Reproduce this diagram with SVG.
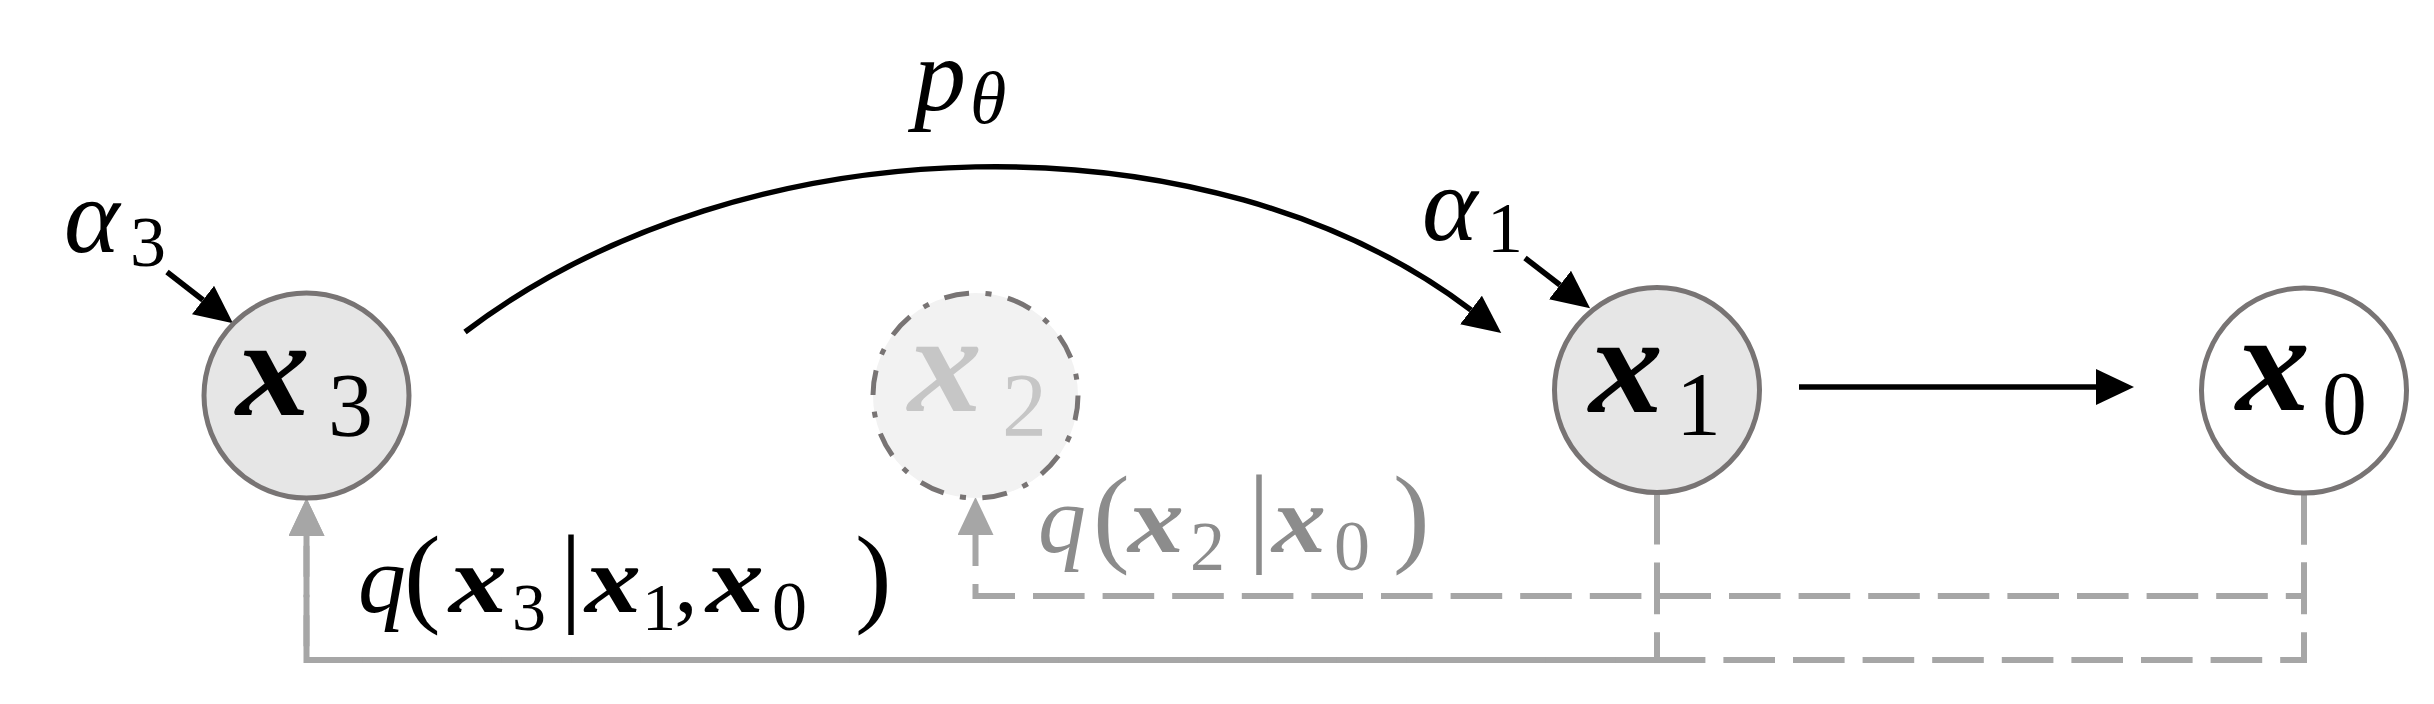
<svg xmlns="http://www.w3.org/2000/svg" width="2434" height="704" viewBox="0 0 2434 704">
<defs>
<style>
.bx{font-family:"Liberation Serif",serif;font-weight:bold;font-style:italic}
.it{font-family:"Liberation Serif",serif;font-style:italic}
.rm{font-family:"Liberation Serif",serif}
.node{stroke:#787474;stroke-width:5}
.gray{fill:none;stroke:#a6a6a6;stroke-width:6;stroke-dasharray:51.6 18;marker-end:url(#ahg)}
.blk{fill:none;stroke:#000;stroke-width:5.5;marker-end:url(#ahb)}
</style>
<marker id="ahb" markerUnits="userSpaceOnUse" markerWidth="38" markerHeight="36" viewBox="0 0 38 36" refX="0" refY="18" orient="auto"><path d="M0,0 L38,18 L0,36 z" fill="#000"/></marker>
<marker id="ahg" markerUnits="userSpaceOnUse" markerWidth="38" markerHeight="36" viewBox="0 0 38 36" refX="0" refY="18" orient="auto"><path d="M0,0 L38,18 L0,36 z" fill="#a6a6a6"/></marker>
</defs>
<rect width="2434" height="704" fill="#fff"/>
<g id="connectors">
<path class="gray" d="M2304,493 V660 H306.5 V536"/>
<path class="gray" d="M1657,493 V660 H306.5 V536"/>
<path class="gray" d="M2304,493 V596 H975.5 V535"/>
<path class="blk" d="M465,332 C745,119 1211,112 1471,310"/>
<path class="blk" d="M167,272 L203,300"/>
<path class="blk" d="M1525,258 L1560,285"/>
<path class="blk" stroke-width="7" d="M1799,387 H2096"/>
</g>
<g id="node-x3">
<circle class="node" cx="306.5" cy="395.5" r="102.5" fill="#e6e6e6"/>
<text class="bx" x="236" y="415" font-size="140" textLength="74" lengthAdjust="spacingAndGlyphs">x</text>
<text class="rm" x="328" y="436" font-size="90">3</text>
</g>
<g id="node-x2">
<circle class="node" cx="975.5" cy="395.5" r="102.5" fill="#f2f2f2" stroke-dasharray="25 16.7 6 16.7"/>
<text class="bx" x="908" y="411" font-size="140" fill="#c6c6c6" textLength="74" lengthAdjust="spacingAndGlyphs">x</text>
<text class="rm" x="1002" y="436" font-size="90" fill="#c6c6c6">2</text>
</g>
<g id="node-x1">
<circle class="node" cx="1657" cy="390" r="102.5" fill="#e6e6e6"/>
<text class="bx" x="1589" y="412" font-size="140" textLength="74" lengthAdjust="spacingAndGlyphs">x</text>
<text class="rm" x="1676" y="435" font-size="90">1</text>
</g>
<g id="node-x0">
<circle class="node" cx="2304" cy="390.5" r="102.5" fill="#fff"/>
<text class="bx" x="2236" y="410" font-size="140" textLength="74" lengthAdjust="spacingAndGlyphs">x</text>
<text class="rm" x="2322" y="434" font-size="90">0</text>
</g>
<g id="label-alpha3">
<text class="it" x="64" y="252" font-size="106">α</text>
<text class="rm" x="130" y="266" font-size="72">3</text>
</g>
<g id="label-alpha1">
<text class="it" x="1422" y="240" font-size="106">α</text>
<text class="rm" x="1487" y="252" font-size="72">1</text>
</g>
<g id="label-ptheta">
<text class="it" x="914" y="110" font-size="104">p</text>
<text class="it" x="970" y="123" font-size="74">θ</text>
</g>
<g id="label-q3">
<text class="it" x="358" y="612" font-size="96">q</text>
<text class="rm" x="404" y="612" font-size="110">(</text>
<text class="bx" x="449" y="612" font-size="96" textLength="58" lengthAdjust="spacingAndGlyphs">x</text>
<text class="rm" x="512" y="630" font-size="68">3</text>
<text class="rm" x="560" y="612" font-size="110">|</text>
<text class="bx" x="585" y="612" font-size="96" textLength="56" lengthAdjust="spacingAndGlyphs">x</text>
<text class="rm" x="642" y="630" font-size="68">1</text>
<text class="rm" x="674" y="612" font-size="96">,</text>
<text class="bx" x="706" y="612" font-size="96" textLength="58" lengthAdjust="spacingAndGlyphs">x</text>
<text class="rm" x="772" y="630" font-size="70">0</text>
<text class="rm" x="855" y="612" font-size="110">)</text>
</g>
<g id="label-q2" fill="#8c8c8c">
<text class="it" x="1038" y="552" font-size="96">q</text>
<text class="rm" x="1093" y="552" font-size="110">(</text>
<text class="bx" x="1128" y="552" font-size="96" textLength="56" lengthAdjust="spacingAndGlyphs">x</text>
<text class="rm" x="1190" y="570" font-size="70">2</text>
<text class="rm" x="1248" y="552" font-size="110">|</text>
<text class="bx" x="1272" y="552" font-size="96" textLength="54" lengthAdjust="spacingAndGlyphs">x</text>
<text class="rm" x="1334" y="570" font-size="72">0</text>
<text class="rm" x="1393" y="552" font-size="110">)</text>
</g>
</svg>
